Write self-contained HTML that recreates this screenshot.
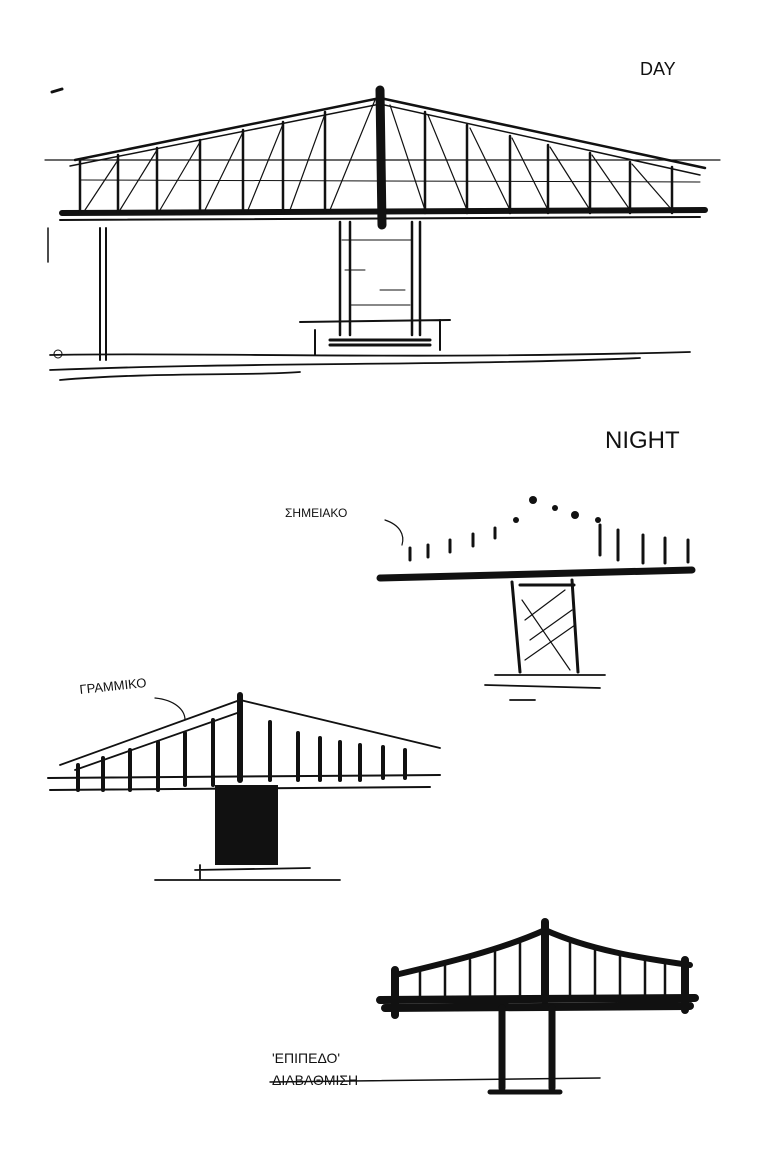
<!DOCTYPE html>
<html><head><meta charset="utf-8"><style>
html,body{margin:0;padding:0;background:#fff;}
svg{display:block}
text{font-family:"Liberation Sans","DejaVu Sans",sans-serif;fill:#111}
</style></head><body>
<svg width="768" height="1152" viewBox="0 0 768 1152" xmlns="http://www.w3.org/2000/svg">
<g stroke="#111" fill="none" stroke-linecap="round">
<!-- SKETCH 1: DAY -->
<path d="M62 213 L705 210" stroke-width="6"/>
<path d="M60 220 L700 217" stroke-width="2"/>
<path d="M75 160 L380 98 L705 168" stroke-width="2.5"/>
<path d="M70 166 L380 104 L700 175" stroke-width="1.5"/>
<path d="M45 160 L720 160" stroke-width="1.2"/>
<path d="M80 180 L700 182" stroke-width="1"/>
<path d="M380 90 L382 225" stroke-width="9"/>
<g stroke-width="2.5">
<path d="M80 160 V213"/><path d="M118 155 V213"/><path d="M157 148 V213"/><path d="M200 140 V213"/><path d="M243 130 V213"/><path d="M283 122 V213"/><path d="M325 112 V213"/>
<path d="M425 112 V213"/><path d="M467 125 V213"/><path d="M510 136 V213"/><path d="M548 145 V213"/><path d="M590 153 V213"/><path d="M630 162 V213"/><path d="M672 167 V213"/>
</g>
<g stroke-width="1.2">
<path d="M85 210 L118 160"/><path d="M120 210 L157 150"/><path d="M160 210 L200 142"/><path d="M205 210 L243 132"/><path d="M248 210 L283 124"/><path d="M290 210 L325 114"/><path d="M330 210 L375 100"/>
<path d="M390 105 L425 210"/><path d="M428 115 L467 210"/><path d="M470 128 L510 210"/><path d="M512 138 L548 210"/><path d="M550 147 L590 210"/><path d="M592 155 L630 210"/><path d="M632 164 L672 210"/>
</g>
<path d="M340 222 V335 M350 222 V335 M412 222 V335 M420 222 V335" stroke-width="2.5"/>
<path d="M342 240 h70 M345 270 h20 M380 290 h25 M350 305 h60" stroke-width="1"/>
<path d="M100 228 V360 M106 228 V360" stroke-width="2"/>
<path d="M48 228 V262" stroke-width="1.5"/>
<path d="M300 322 L450 320 M315 330 V355 M440 320 V350" stroke-width="2"/>
<path d="M330 340 h100 M330 345 h100" stroke-width="3"/>
<path d="M50 355 C200 352 400 360 690 352 M50 370 C250 362 450 366 640 358 M60 380 C150 372 250 376 300 372" stroke-width="1.8"/>
<circle cx="58" cy="354" r="4"/><path d="M52 92 l10 -3" stroke-width="3"/>
<!-- SKETCH 2 -->
<g stroke-width="3"><path d="M410 548 v12"/><path d="M428 545 v12"/><path d="M450 540 v12"/><path d="M473 534 v12"/><path d="M495 528 v10"/><path d="M618 530 v30"/><path d="M643 535 v28"/><path d="M665 538 v25"/><path d="M688 540 v22"/><path d="M600 525 v30"/></g>
<g fill="#111" stroke="none"><circle cx="533" cy="500" r="4"/><circle cx="555" cy="508" r="3"/><circle cx="575" cy="515" r="4"/><circle cx="598" cy="520" r="3"/><circle cx="516" cy="520" r="3"/></g>
<path d="M380 578 L692 570" stroke-width="7"/>
<path d="M512 582 L520 672 M572 580 L578 672 M520 585 L574 585" stroke-width="3"/>
<path d="M522 600 L570 670 M525 620 L565 590 M530 640 L572 610 M525 660 L575 625" stroke-width="1.2"/>
<path d="M485 685 L600 688 M495 675 h110 M510 700 h25" stroke-width="1.8"/>
<path d="M385 520 C400 525 405 535 402 545" stroke-width="1.2"/>
<!-- SKETCH 3 -->
<path d="M48 778 L440 775 M50 790 L430 787" stroke-width="2"/>
<path d="M60 765 L240 700 L440 748 M75 770 L240 712" stroke-width="1.8"/>
<path d="M240 695 V780" stroke-width="6"/>
<g stroke-width="4"><path d="M78 765 V790"/><path d="M103 758 V790"/><path d="M130 750 V790"/><path d="M158 742 V790"/><path d="M185 733 V785"/><path d="M213 720 V785"/><path d="M270 722 V780"/><path d="M298 733 V780"/><path d="M320 738 V780"/><path d="M340 742 V780"/><path d="M360 745 V780"/><path d="M383 747 V778"/><path d="M405 750 V778"/></g>
<rect x="215" y="785" width="63" height="80" fill="#111" stroke="none"/>
<path d="M155 880 L340 880 M195 870 L310 868 M200 865 V880" stroke-width="1.8"/>
<path d="M155 698 C175 700 185 710 185 720" stroke-width="1.2"/>
<!-- SKETCH 4 -->
<path d="M380 1000 L695 998 M385 1008 L690 1006" stroke-width="8"/>
<path d="M395 975 C450 962 500 950 545 930 C590 950 640 958 690 965" stroke-width="6"/>
<path d="M545 922 V1000" stroke-width="8"/>
<path d="M395 970 V1015 M685 960 V1010" stroke-width="8"/>
<g stroke-width="2.5"><path d="M420 970 V998"/><path d="M445 965 V998"/><path d="M470 960 V998"/><path d="M495 952 V998"/><path d="M520 943 V998"/><path d="M570 943 V998"/><path d="M595 950 V998"/><path d="M620 955 V998"/><path d="M645 958 V998"/><path d="M665 962 V998"/></g>
<path d="M502 1008 V1088 M552 1008 V1088" stroke-width="7"/>
<path d="M490 1092 L560 1092" stroke-width="5"/>
<path d="M270 1082 L600 1078" stroke-width="1.5"/>
</g>
<text x="640" y="75" font-size="18">DAY</text>
<text x="605" y="448" font-size="24">NIGHT</text>
<text x="285" y="517" font-size="12">ΣΗΜΕΙΑΚΟ</text>
<text x="80" y="694" font-size="13" transform="rotate(-6 80 694)">ΓΡΑΜΜΙΚΟ</text>
<text x="272" y="1063" font-size="14">'ΕΠΙΠΕΔΟ'</text>
<text x="272" y="1085" font-size="14">ΔΙΑΒΑΘΜΙΣΗ</text>
</svg>
</body></html>
